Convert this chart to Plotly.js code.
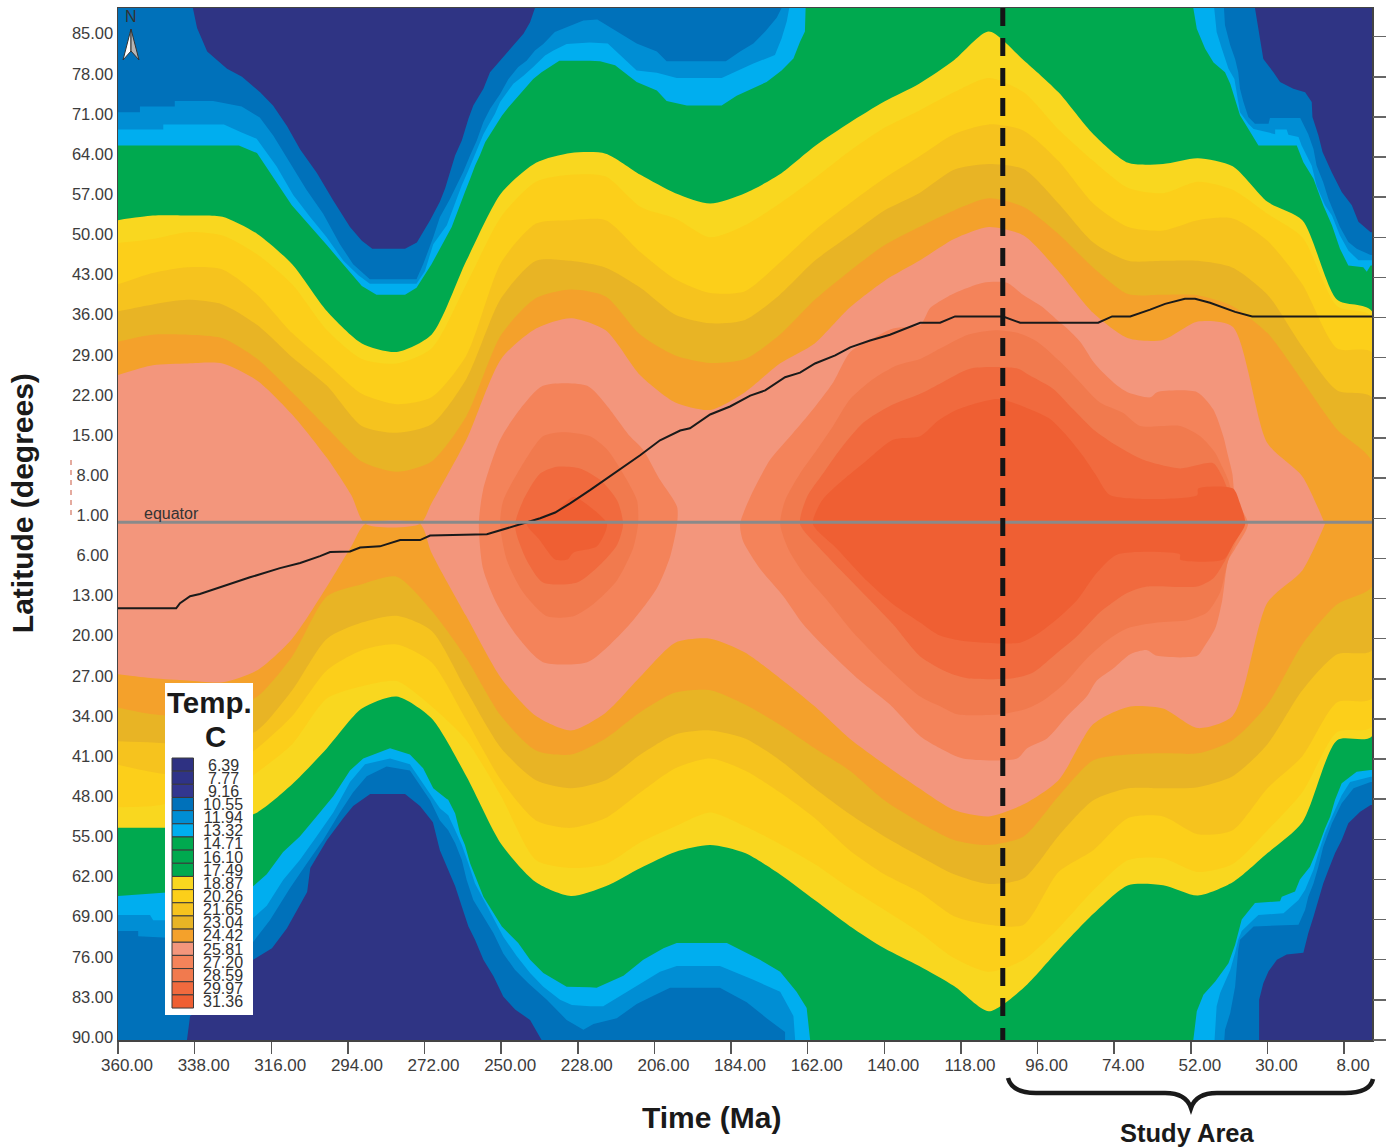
<!DOCTYPE html>
<html>
<head>
<meta charset="utf-8">
<script src="https://cdn.plot.ly/plotly-3.0.1.min.js"></script>
<style>html,body{margin:0;padding:0;background:#fff}#chart{width:1389px;height:1147px}</style>
</head>
<body>
<div id="chart"></div>
<script>
// ---------- tick labels ----------
const xTickValues = [360,338,316,294,272,250,228,206,184,162,140,118,96,74,52,30,8];
const yTickValues = [85,78,71,64,57,50,43,36,29,22,15,8,1,-6,-13,-20,-27,-34,-41,-48,-55,-62,-69,-76,-83,-90];
const legendLabels = ["6.39","7.77","9.16","10.55","11.94","13.32","14.71","16.10","17.49","18.87","20.26","21.65","23.04","24.42","25.81","27.20","28.59","29.97","31.36"];
const legendColors = ["#2e3182","#2f3387","#33378f","#0071ba","#008ed4","#00aeef","#00a94f","#00a94f","#00a94f","#f9d71f","#fccf1a","#f6c31e","#e8b425","#f4a12b","#f3967c","#f4835a","#f17a4e","#f16a3e","#ef5f33"];

// ---------- isotherm latitudes, per time column (Ma) ----------
const timeMa = [360,350,340,330,320,310,300,290,280,270,260,250,240,230,220,210,200,190,180,170,160,150,140,130,120,110,100,90,80,70,60,50,40,30,20,10,0];

// cold isotherms: read as their own outlines (time, latitude), north and south edge
const midblueN_t = [360,353.7,353.7,343.7,343.7,332.7,324.5,319.3,315.4,310.6,305.9,301.1,296.3,292.5,287.7,274.3,272.4,269.5,267.6,264.7,262.8,260.9,258.9,257,255.1,253.2,250.3,247.9,245.1,242.7,240.3,237.9,234.6,231.2,226.4,222.4,216.8,211.1,205.3,202.5,185.5,181.4,177.6,174.2,170.9,169.5,42.5,42.2,40.7,39.3,38.4,37.9,36.9,35.5,33.6,29.7,29.3,20.6,18.3,16.8,15.9,14,12.5,10.6,9.2,6.8,4.4,0.4,0];
const midblueN_y = [71.8,71.8,72.8,72.8,73.8,73.8,72.8,70.9,67.7,63,58.3,54.1,48.8,45.3,42.7,42.7,45.3,50,53.5,56.7,59,61.4,64.3,66.9,70.1,72.4,75,77.6,79.7,80.8,82.6,83.7,85.8,86.6,87.8,88,85.9,83.8,82.4,80.7,80.7,82.4,83.8,85.9,88.3,90,90,87,83.5,81.1,78.8,75.9,73.6,71,69.8,69.8,70.8,70.8,68,65.4,62.5,59.6,56.7,53.8,51.8,49.2,48,46.9,46.9];
const midblueS_t = [360,354.2,354.2,321.2,316.4,310.6,305.9,301.1,296.3,292.5,288.6,282.9,276.2,270.4,267.6,265.2,263.2,261.3,259.9,258,255.1,252.2,249.4,246,242.2,236.9,231.2,226.4,223.5,216.8,211.1,206.3,201.5,187.2,179.5,173.8,168.5,168.5,42.4,42.2,40.7,39.3,38.4,37.9,34,21.1,19.2,18.3,16.8,15.4,14,11.5,8.7,5.3,0.4,0];
const midblueS_y = [-71,-71,-71.9,-72.9,-69.1,-63.5,-59.3,-55.1,-50.3,-46.8,-44,-42.3,-43,-48.2,-51.7,-53.4,-55.7,-58.6,-62.1,-65.6,-68.5,-71.4,-74.9,-77.8,-80.1,-83,-86.5,-88.2,-87.2,-86.2,-83.7,-82.3,-80.9,-80.9,-83.4,-86.2,-88.6,-90,-90,-88.2,-85.3,-80.7,-74.3,-72.5,-70.2,-69.9,-67.3,-65,-62.7,-59.8,-56.3,-52.2,-48.7,-46.1,-45,-45];

const cyanN_t = [360,347,347,329.6,324.5,320.2,314.5,309.7,304.9,300.1,295.3,291,287.7,274.3,271.9,269.5,265.6,264.2,262.8,261.3,259.4,258,256.5,255.1,253.7,251.8,250.3,248.4,246.5,243.6,240.8,237.4,235,231.2,224.5,219.4,214.9,211.1,205.3,199.6,186.7,182.4,177.6,171.4,169.5,168,167.3,45.3,44.6,43.1,41.2,39.5,38.8,37.9,35.5,34,27.8,27.8,24.5,24,21.1,20.2,17.3,15.9,13.5,11.5,9.2,6.8,3.9,0.4,0];
const cyanN_y = [68.8,68.8,69.7,69.7,68.3,67.2,62.4,57.4,53.6,50,45.9,43.4,41.9,41.9,44.1,48.8,52.1,54.4,57,59.1,61.7,63.7,66,68,69.5,71.5,73.6,75.3,76.8,78.2,79.7,81.7,82.6,83.7,84,83.8,81.2,79.1,78.7,77.8,77.8,79,80.3,81.8,84.7,87.7,90,90,85.8,82.9,79.4,77.6,75.3,71.8,69.8,68.9,68,68.8,68.8,67.9,67.5,66,62.5,59,55.6,53.8,50.3,47.7,46,46,46];
const cyanS_t = [360,350.8,349.9,326.9,321.2,317.3,312.6,307.8,303,298.2,293.4,289.1,281.9,276.2,271.4,267.6,265.2,263.2,261.3,259.4,257.5,254.6,252.2,249.4,245.5,241.7,237.9,233.1,229.7,224.5,220.7,215.9,211.1,204.4,199.6,187.2,177.6,169.9,166.1,165.6,45.2,44.6,43.6,40.7,39.3,38.4,37.4,34,32.6,25.4,21.1,19.2,16.8,15.4,13.5,11.1,8.7,6.3,0.4,0];
const cyanS_y = [-68.2,-68.2,-69.1,-69.1,-68.7,-66.6,-62.1,-58.6,-54.5,-50.3,-45,-41.9,-40.9,-41.9,-46.1,-49.6,-50.8,-53.4,-56,-59.2,-62.7,-66.1,-68.8,-72,-75.4,-78.3,-80.7,-83,-83.9,-84.1,-84.1,-82.3,-80.6,-78.1,-77.1,-77.1,-79.5,-81.6,-85.8,-90,-90,-84.1,-81.8,-77.8,-74.8,-72.5,-71,-69,-68.2,-67.9,-65.6,-63.8,-60.3,-57.4,-53.9,-50.5,-47.3,-45,-44.1,-44.1];

const greenN_t = [360,325.3,320.1,310.1,300,290,285.8,277.6,274.3,270,264.2,263.2,261.8,260.4,258.9,257.5,256.1,254.6,252.2,249.8,247.9,245.1,243.2,240.8,238.4,236,233.3,224.5,221.6,217.3,211.1,205.3,202.5,196.7,186.7,182.4,178.5,173.8,169.5,166.1,164.2,162.8,162.6,51.3,50.3,47.9,45.5,42.2,40.7,38.8,37.9,35,32.6,21.6,19.7,16.8,14,11.5,9.2,6.8,2.5,1.5,0.4,0];
const greenN_y = [66,66,64.7,55.6,48.6,41.5,40,40,41.2,45.3,51.8,53.5,55.6,57.9,60.2,62.5,64.3,66.6,68.9,71.2,72.7,74.7,75.9,77.6,78.8,79.7,80.8,80.8,80.7,80,77.1,75.6,73.8,73,73,74.7,75.8,77.1,79.1,81.2,84.1,85.9,90,90,86.4,82.9,80.5,78.8,76.8,73,71.3,68.4,66,66,63.1,60.2,55.6,52.1,48,45.1,44.8,44,45.1,45.1];
const greenS_t = [360,321.2,317.3,312.6,307.8,303,298.2,293.4,289.6,281.9,276.2,272.4,269.5,265.7,265.2,263.2,261.8,260.4,258.9,257,255.1,252.2,249.8,245.1,241.7,237.9,231.2,224.5,222.6,214.9,209.2,203.4,199.6,185.2,175.7,169.9,165.2,162.3,161.3,51.3,50.3,48.4,45,41.2,39.3,37.4,33.6,26.4,25.9,22.1,20.7,17.8,15.4,13.5,12,10.6,8.7,4.4,0.4,0];
const greenS_y = [-64.9,-63.2,-61.1,-57.2,-54.5,-51,-47.5,-43,-40.9,-39.1,-40.2,-42.6,-46.1,-47.9,-48.1,-50.5,-54,-56,-59.2,-62.1,-65,-67.9,-70.2,-73.1,-76,-78.3,-80.7,-80.8,-80.9,-78.8,-76,-74,-73.1,-73.1,-76,-78.1,-81.6,-84.4,-90,-90,-85,-82.1,-79.8,-76.6,-73.4,-69,-66.1,-65.8,-65,-64.1,-62,-59.8,-56.3,-53.1,-51,-48.1,-45.2,-43.2,-42.9,-42.9];

// warm isotherms: north and south edge at each time column
const lightYellowN = [53,53.8,53.8,53.6,50.6,45.3,37.1,31.5,30,33, 45.9,57.7,63,64.7,64.6,60.9,57.7,55.9,57.7,61, 65.9,70,73.7,76.8,80.9,85.9,80.9,75.3,68,63, 62.8,63.8,62.4,56.2,53,39.1,37.1];
const lightYellowS = [-53,-53,-53,-52.4,-50.3,-45.4,-39.1,-32.2,-30.1,-33.9, -44,-55.8,-62.5,-64.9,-63.2,-60,-57.2,-56,-57.4,-61.1, -65.6,-70.1,-74,-77.1,-80.6,-85,-80.9,-74.3,-68,-63, -63,-64.8,-62.5,-57.4,-52,-37.7,-37];
const yellowN = [49,49.7,50.9,50.3,47,41.8,33.8,28.8,28,30.6, 41.8,53.6,59.7,60.9,60.6,55.3,53.3,50,52.1,55.9, 60.3,65,69.1,72.1,75.3,77.8,75.3,68.8,63.3,58.6, 57.7,59.7,58.3,54.1,50,38,36.2];
const yellowS = [-49.4,-49.2,-48.2,-47.5,-43.3,-38.4,-30.4,-28.3,-27.4,-31.8, -37.7,-47.5,-58.6,-60,-59.3,-55.5,-52.7,-50.3,-52.7,-55.8, -59.3,-63.5,-67.3,-71.2,-75.7,-78.1,-76,-70.5,-63.9,-58.6, -58.3,-60.7,-59.3,-53.4,-46.8,-36.3,-35.3];
const goldenN = [41.8,43.8,44.8,44.4,40,33.3,28,22.7,20.9,22.1, 29.4,45.6,52.4,53,53,47.4,42.7,40.3,40.6,45.6, 51.2,55.9,60.3,64.1,68,69.7,68.6,63.3,55.9,51.8, 51.2,53,53.3,49.4,41.8,30.6,29.9];
const goldenS = [-42,-43.3,-44,-43,-39.1,-33.5,-25.5,-22,-21,-24.1, -34.2,-44.7,-51.7,-53,-51.3,-46.8,-42.6,-40.9,-43,-46.8, -51.3,-56.9,-61.1,-64.2,-68.4,-69.9,-69.9,-60.7,-56.9,-51.3, -51,-54.1,-53.4,-46.1,-40.5,-31.1,-30.4];
const darkGoldN = [37.1,38.3,39.1,38.3,34.7,29.1,24.1,17.1,15.9,17.4, 25.3,39.4,45.9,45.9,44.7,41.2,36.5,35,35.6,40, 45.9,50.3,54.7,57.7,61.8,62.8,61.9,55.9,49.1,45.9, 45.9,45.9,44.7,40,30.9,23.3,22.1];
const darkGoldS = [-37.9,-38.1,-38.4,-38.1,-36,-29,-20,-17.2,-16,-18.6, -29,-39.1,-44.7,-46.1,-44.7,-40.2,-36.7,-36,-37.4,-41.2, -46.1,-50.6,-54.5,-57.9,-61.1,-62.8,-61.8,-54.4,-48.2,-46.1, -46.1,-45.9,-44,-38.4,-29,-22.7,-22];
const orangeN = [31.8,33,33,32.4,28.8,23,16.8,10.9,9.1,10.9, 18.8,33,39.4,40.9,39.7,33,29.4,28.1,28.8,33, 39.1,44.1,48.6,51.8,54.7,56.8,55.3,50.6,44.7,40.1, 40,39.9,38,33.3,25,16.5,10.9];
const orangeS = [-32,-33.2,-33.5,-32.8,-30.1,-23.1,-12.6,-10.5,-9.2,-15.1, -23.4,-33.5,-39.5,-40.2,-37.4,-32.8,-29.4,-29,-31.5,-35, -39.1,-43,-48.2,-52,-55.1,-56,-54.5,-47.5,-41.2,-40.2, -40,-40,-37.7,-31.5,-21,-14,-10.9];

const salmonTime = [360,350,340,330,320,310,300,293,289,273.3,270,260,250,240,230,220,210,200,190,180,170,160,150,140,130,120,110,100,90,80,70,60,50,40,30,20,13.5];
const salmonN = [26,27.7,28,28,25,19.1,11.5,5,0,0,3.6, 14.7,28.8,34.1,35.9,33.8,25.9,21.2,19.9,23,28, 31.5,37.7,42.4,45.9,49.7,51.8,50.3,44.1,36.8,32.4, 32.1,35.3,34.4,14.1,8.3,0];
const salmonS = [-26.2,-26.9,-27.3,-27.6,-25.5,-20,-10.9,-3.9,0,0,-5, -16.1,-26.9,-33.5,-36,-32.9,-26.6,-20.7,-20,-22.4,-26.9, -31.8,-37.4,-41.9,-46.1,-49.9,-51,-48.9,-44.7,-34.9,-31.9, -32.2,-35.6,-33.5,-13.7,-8.1,0];

// ---------- coldest regions (closed outlines) ----------
const navyNW_t = [338.5,337.3,334.4,328.7,324.4,319.2,315.5,311.5,307.7,302.9,298.3,293.4,290,287,277.6,274.2,270.4,267.6,266.1,264.7,263.2,261.3,259.4,258,255.1,253.2,249.4,246,243.6,241.7,240.3];
const navyNW_y = [90,86.5,82.4,79.4,78,75.3,73,69.4,65.3,61.2,56.5,51.8,49.4,48,48,49.1,53,56.2,58.5,61.4,64.3,66.9,70.7,73,75.9,78.8,81.4,83.7,85.5,87.5,90];
const navyNE_t = [33.6,32.6,31.2,28.3,26.4,22.6,19.2,17.3,17.1,15.4,14.2,11.6,8.7,5.8,3.9,0.4,0,0];
const navyNE_y = [90,86.4,81.1,78.8,77.1,75.9,75.3,73.6,71,67.8,64.9,61.4,57.9,55.6,52.7,50.9,50.9,90];
const navySW_t = [340.2,339.3,331.6,327,321.2,315.8,311.5,305.7,304.8,300,295.3,292.5,287.6,277.6,273.3,269.6,267.6,265.6,263.2,261.3,259.4,257.5,255.1,252.2,249.4,246,241.7,238.4];
const navySW_y = [-90,-85.8,-83,-80.9,-76,-74,-70.5,-64.2,-60,-55.1,-51.3,-49.2,-47.1,-47.1,-49.2,-52,-56.9,-59.8,-63.2,-66.7,-70.2,-72.5,-76,-78.9,-82.4,-84.7,-86.5,-90];
const navySE_t = [32.4,32.4,31.2,29.7,27.3,24.5,19.7,18.3,16.8,15.4,14,12.5,10.6,8.7,6.8,3.4,0.4,0,0];
const navySE_y = [-90,-83,-80.1,-78,-76,-75.1,-74.8,-71.4,-68.5,-65.6,-62.7,-60.3,-57.4,-55.1,-52.2,-50.2,-49,-49,-90];

// ---------- warmest regions (closed outlines) ----------
const warm1A_t = [256.4,255.2,250.3,244.6,238,225.3,219.6,213,209.3,204.4,199.5,199.5,201.5,205.3,212.1,218.7,225.3,238,245.4,251.2,255.2];
const warm1A_y = [0,5.9,14.7,20,24.1,24.1,20.6,15.3,13,7.7,3,0,-5.7,-11.2,-16.8,-21,-24.1,-24.1,-19.6,-14,-7.8];
const warm2A_t = [250.3,249.4,245.4,238,232.2,224.5,219.6,215,211,210.7,212.1,216.7,223.6,229.3,236.8,243.7,248.3];
const warm2A_y = [0,4.1,8.8,15.3,16,15.3,13,8.8,4.1,0,-4.2,-9.8,-14,-16.1,-16.1,-11.9,-6.4];
const warm3A_t = [246,243.7,238.8,234,227.4,221.6,216.7,215,216.7,221.6,228.2,238,242.6,245.4];
const warm3A_y = [0,4.1,8.8,10,9.7,7.7,4.1,0,-3.6,-7.1,-10.2,-10.2,-6.4,-2.2];
const warm4A_t = [242.6,234,229.3,224.5,219.6,222.5,229.3,231,234.5,238.8];
const warm4A_y = [0,2.4,4.7,3,0,-3.9,-5,-6.2,-6.2,-2.9];

const warm1B_t = [181.4,178.5,172.8,167,161.3,154.7,149.8,143.2,137.5,129.7,126.8,121.7,117.4,111.6,104.8,100.2,94.7,90.4,87.5,83.8,80,77.4,73.1,70.2,63.6,61.7,50.2,45.6,42.7,41.3,40.1,39.3,35.6,39.3,41.3,43,45,48.5,50.2,61.7,64.6,69.4,74.3,79,81.8,87.5,93.3,99,101.9,117.4,124,129.7,138.4,147,155.6,163.3,169,175.7,180.6];
const warm1B_y = [0,4.7,11.2,15.3,19.4,24.7,30,32.4,34.1,34.7,37.7,39.7,40.9,42.1,42.1,40,37.9,35.6,34.1,31.8,28.3,26.5,24.1,23,22.1,23,23,20,15.3,11.8,8.8,4.7,0,-4.3,-6.4,-13.3,-18.2,-21.7,-23,-23,-22,-22.7,-25.2,-27.3,-30,-33.5,-37.4,-39.1,-40.9,-40.9,-39.1,-37,-31.5,-27.3,-22.4,-17.5,-12.6,-7.8,-2.9];
const warm2B_t = [169.9,168.5,164.2,159.3,154.7,149.8,143.2,136.3,129.7,124,116,108.2,101.6,96.1,89.5,83.8,78.1,71.5,66.6,55.1,49.3,45,43,41.3,39.9,37,37.9,41.3,43.6,47.3,53.1,61.7,70.2,76,81.8,88.6,94.4,99,106.8,119.1,124,129.7,141.2,149,156.4,163.3,167.6];
const warm2B_y = [0,4.1,8.8,13,17.1,21.8,25.3,27.7,28.8,30.6,33,33.8,33.3,31.8,28.3,24.7,21.2,19.4,17.1,17.1,15.3,12.4,10,7.7,4.7,0,-1.5,-6.4,-11.9,-15.4,-16.8,-17.2,-18.2,-20.3,-23.4,-28,-30.8,-32.2,-33.2,-33.2,-31.8,-30.1,-23.8,-18.9,-13.3,-8.5,-4.3];
const warm3B_t = [164.2,162.2,157.6,152.7,146,138.4,129.7,123.4,115.4,101.6,98.2,91.6,85.8,80,73.1,65.7,55.1,45.6,43,41.3,37.9,37,39.9,42.2,45.6,50.2,64.6,70.2,78.1,84.7,91.6,97.3,103,116.2,121.7,129.7,137.5,144.1,151.8,158.4];
const warm3B_y = [0,4.7,8.8,13,17.7,20.6,22.7,24.7,27.1,27.1,25.9,23.6,20,16.5,13.6,11.2,9.7,10.6,8.3,5.9,2.4,0,-3.6,-6.4,-9.5,-10.9,-10.9,-12,-15.4,-19.6,-23.1,-25.9,-26.9,-26.9,-25.9,-23.1,-17.5,-13.3,-8.5,-4.3];
const warm4B_t = [160.5,157.9,151.8,146,137.5,129.7,124.6,118.8,107.3,98.2,92.4,87.5,82.9,79,75.1,50.2,49.9,39.9,37.9,36.4,39.9,42.7,55.1,55.1,73.1,79,84.7,89.5,95.3,101,118.2,124.6,129.7,137.5,145,153.6];
const warm4B_y = [0,4.1,7.7,10.6,14.7,15.3,18,20,21.8,20,18.3,15.3,11.8,8.3,5,5,6.2,6.2,3.6,0,-3.6,-6.2,-6.2,-5.3,-5.3,-8.5,-13.3,-16.1,-18.9,-20.7,-20.3,-19.3,-17.2,-14,-9.9,-4.3];

// ---------- study-site paleolatitude path ----------
const pathTime = [360,343.3,342.2,339.3,336.5,330.7,322.1,313.5,307.7,302,299.1,293.4,290.5,284.8,279,273.3,270.4,254.1,250.3,244.6,238.8,234.5,230.2,224.5,218.7,210.1,204.4,198.6,195.8,190,184.3,178.5,174.2,168.5,164.2,159.9,154.1,149.8,144.1,138.4,129.7,124,119.7,105.9,101,78.6,74.6,69.4,63.7,59.4,53.7,50.8,46.5,39.3,34.4,0];
const pathLat = [-14.7,-14.7,-13.8,-12.6,-12.2,-11,-9.3,-7.7,-6.8,-5.6,-4.9,-4.8,-4.1,-3.9,-2.8,-2.8,-2,-1.8,-1.1,-0.1,1,2,3.6,5.9,8.3,12,14.6,16.3,16.7,19.1,20.5,22.4,23.3,25.6,26.4,28,29.4,30.8,32,33,35.1,35.1,36.2,36.2,35.1,35.1,36.2,36.2,37.4,38.4,39.3,39.3,38.6,37,36.2,36.2];
const studyBoundaryMa = 106;

// ---------- colours ----------
const C = {navy:"#2f3484",blue:"#0071ba",midblue:"#008ed4",cyan:"#00aeef",green:"#00a94f",ly:"#f9d71f",y:"#fccf1a",golden:"#f6c31e",dark:"#e8b425",orange:"#f4a12b",salmon:"#f3967c",s2:"#f4835a",s3:"#f17a4e",s4:"#f16a3e",red:"#ef5f33"};

const smooth={shape:"spline",smoothing:0.7};
const band = (name,t,n,s,color)=>({type:"scatter",mode:"lines",name,x:t.concat(t.slice().reverse()),y:n.concat(s.slice().reverse()),fill:"toself",fillcolor:color,line:Object.assign({width:0,color},smooth),hoverinfo:"skip",showlegend:false});
const edges = (name,tn,n,ts,s,color)=>({type:"scatter",mode:"lines",name,x:tn.concat(ts.slice().reverse()),y:n.concat(s.slice().reverse()),fill:"toself",fillcolor:color,line:{width:0,color},hoverinfo:"skip",showlegend:false});
const loop = (name,t,y,color,soft)=>({type:"scatter",mode:"lines",name,x:t.concat(t[0]),y:y.concat(y[0]),fill:"toself",fillcolor:color,line:Object.assign({width:0,color},soft?smooth:{}),hoverinfo:"skip",showlegend:false});

const traces = [
  loop("navy NW",navyNW_t,navyNW_y,C.navy), loop("navy NE",navyNE_t,navyNE_y,C.navy),
  loop("navy SW",navySW_t,navySW_y,C.navy), loop("navy SE",navySE_t,navySE_y,C.navy),
  edges("11.94",midblueN_t,midblueN_y,midblueS_t,midblueS_y,C.midblue),
  edges("13.32",cyanN_t,cyanN_y,cyanS_t,cyanS_y,C.cyan),
  edges("14.71",greenN_t,greenN_y,greenS_t,greenS_y,C.green),
  band("18.87",timeMa,lightYellowN,lightYellowS,C.ly),
  band("20.26",timeMa,yellowN,yellowS,C.y),
  band("21.65",timeMa,goldenN,goldenS,C.golden),
  band("23.04",timeMa,darkGoldN,darkGoldS,C.dark),
  band("24.42",timeMa,orangeN,orangeS,C.orange),
  band("25.81",salmonTime,salmonN,salmonS,C.salmon),
  loop("27.20 a",warm1A_t,warm1A_y,C.s2,true), loop("27.20 b",warm1B_t,warm1B_y,C.s2,true),
  loop("28.59 a",warm2A_t,warm2A_y,C.s3,true), loop("28.59 b",warm2B_t,warm2B_y,C.s3,true),
  loop("29.97 a",warm3A_t,warm3A_y,C.s4,true), loop("29.97 b",warm3B_t,warm3B_y,C.s4,true),
  loop("31.36 a",warm4A_t,warm4A_y,C.red,true), loop("31.36 b",warm4B_t,warm4B_y,C.red,true),
  {type:"scatter",mode:"lines",name:"path",x:pathTime,y:pathLat,yaxis:"y2",line:{color:"#1a1a1a",width:2},hoverinfo:"skip",showlegend:false}
];

// pixel helpers for page furniture (legend box, compass, brace) only
const L=118,R=1372,T=8,B=1040;
const px=x=>(x-L)/(R-L), py=y=>(B-y)/(B-T);
const P=(pts)=>pts.map(([c,x,y])=>c+" "+px(x)+" "+py(y)).join(" ");
const shapes=[], annotations=[];
const note=(text,x,y,size,bold,color)=>annotations.push({xref:"paper",yref:"paper",x:px(x),y:py(y),xanchor:"center",yanchor:"middle",showarrow:false,text,font:{family:"Liberation Sans, Arial",size,color:color||"#1a1a1a",weight:bold?700:400}});

shapes.push({type:"line",xref:"x",yref:"y",x0:360,x1:0,y0:0.3,y1:0.3,line:{color:"#8a8a8a",width:3}});
shapes.push({type:"line",xref:"x",yref:"y",x0:studyBoundaryMa,x1:studyBoundaryMa,y0:90,y1:-90,line:{color:"#151515",width:5,dash:"18px,12px"}});
// legend box
shapes.push({type:"rect",xref:"paper",yref:"paper",x0:px(165),x1:px(253),y0:py(1015),y1:py(683),fillcolor:"#fff",line:{width:0}});
legendLabels.forEach((lab,i)=>{
  const y0=758+i*13.16;
  shapes.push({type:"rect",xref:"paper",yref:"paper",x0:px(172),x1:px(193.5),y0:py(y0+13.16),y1:py(y0),fillcolor:legendColors[i],line:{color:"#3a3a3a",width:1}});
  note(lab,223,765+i*13.15,16,false,"#333");
});
note("Temp.",209,702,29.5,true); note("C",215,737,29.5,true);
// compass
shapes.push({type:"path",xref:"paper",yref:"paper",path:P([["M",131,29],["L",123,60],["L",131,51]])+" Z",fillcolor:"#fff",line:{color:"#333",width:1}});
shapes.push({type:"path",xref:"paper",yref:"paper",path:P([["M",131,29],["L",139,60],["L",131,51]])+" Z",fillcolor:"#b5b5b5",line:{color:"#333",width:1}});
note("N",131,16,16,false,"#333");
note("equator",171,513,16,false,"#333");
// red tick fragment
shapes.push({type:"line",xref:"paper",yref:"paper",x0:px(71),x1:px(71),y0:py(460),y1:py(520),line:{color:"#c9573f",width:1,dash:"5px,5px"}});
// study-area brace
const brace="M "+px(1008)+" "+py(1078)+" Q "+px(1012)+" "+py(1093)+" "+px(1036)+" "+py(1093)+" L "+px(1165)+" "+py(1093)+" Q "+px(1186)+" "+py(1093)+" "+px(1191)+" "+py(1108)+" Q "+px(1196)+" "+py(1093)+" "+px(1217)+" "+py(1093)+" L "+px(1345)+" "+py(1093)+" Q "+px(1370)+" "+py(1093)+" "+px(1373)+" "+py(1079);
shapes.push({type:"path",xref:"paper",yref:"paper",path:brace,line:{color:"#1a1a1a",width:4.5}});
note("Study Area",1187,1133,25.5,true);

const yTicks=yTickValues.map(v=>{const s=Math.abs(v).toFixed(2);return s.length<5?s+"\u00a0":s;});
const pad=n=>"\u00a0".repeat(n);
const layout={
  width:1389,height:1147,
  margin:{l:118,r:17,t:8,b:107,pad:0},
  paper_bgcolor:"#fff",plot_bgcolor:C.blue,showlegend:false,
  xaxis:{range:[360,0],autorange:false,tickmode:"array",tickvals:xTickValues,ticktext:xTickValues.map(v=>v.toFixed(2)),ticks:"outside",ticklen:12,tickwidth:1.5,tickcolor:"#555",tickangle:0,ticklabelshift:-9,ticklabelstandoff:-3,tickfont:{family:"Liberation Sans, Arial",size:17,color:"#3c3c3c"},showline:true,linecolor:"#444",linewidth:1.5,mirror:true,showgrid:false,zeroline:false,
    title:{text:"Time (Ma)"+pad(8)+"\u200b",font:{family:"Liberation Sans, Arial",size:30,color:"#1a1a1a",weight:700},standoff:33}},
  yaxis:{range:[-90,90],autorange:false,tickmode:"array",tickvals:yTickValues,ticktext:yTicks,ticks:"",ticklabelshift:-3,ticklabelstandoff:0,tickfont:{family:"Liberation Sans, Arial",size:16.5,color:"#3c3c3c"},showline:true,linecolor:"#444",linewidth:1.5,mirror:true,showgrid:false,zeroline:false,
    title:{text:"\u200b"+pad(5)+"Latitude (degrees)",font:{family:"Liberation Sans, Arial",size:30,color:"#1a1a1a",weight:700},standoff:29}},
  yaxis2:{range:[-90,90],autorange:false,overlaying:"y",side:"right",tickmode:"array",tickvals:yTickValues,ticks:"outside",ticklen:13,tickwidth:1.5,tickcolor:"#666",showticklabels:false,showgrid:false,zeroline:false},
  shapes,annotations
};
Plotly.newPlot("chart",traces,layout,{displayModeBar:false,staticPlot:true});
</script>
</body>
</html>
